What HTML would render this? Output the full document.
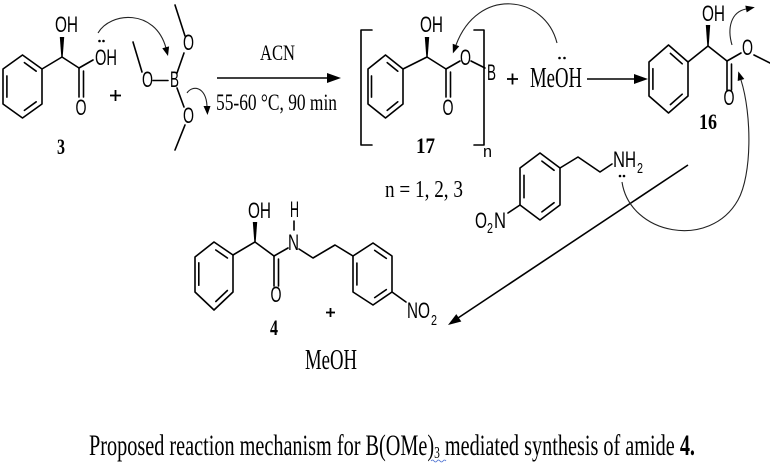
<!DOCTYPE html>
<html><head><meta charset="utf-8">
<style>
html,body{margin:0;padding:0;background:#fff;}
svg{display:block;}
.s{font-family:"Liberation Sans",Arial,sans-serif;font-size:22px;}
.t{font-family:"Liberation Serif","Times New Roman",serif;}
.b{font-family:"Liberation Serif","Times New Roman",serif;font-weight:bold;font-size:22px;}
</style></head><body>
<svg width="770" height="470" viewBox="0 0 770 470" xmlns="http://www.w3.org/2000/svg">
<rect width="770" height="470" fill="#fff"/>

<!-- ================= BONDS ================= -->
<g stroke="#000" stroke-width="1.6" fill="none" stroke-linecap="round" stroke-linejoin="round">
  <!-- Molecule 3 -->
  <polygon points="22.5,55 42,69 42,104 22.5,118 3,104 3,69"/>
  <line x1="24.4" y1="62.6" x2="36.2" y2="71.2"/>
  <line x1="36.2" y1="101.8" x2="24.4" y2="110.4"/>
  <line x1="6.9" y1="97.1" x2="6.9" y2="75.9"/>
  <line x1="42" y1="69" x2="62" y2="57"/>
  <line x1="62" y1="57" x2="79" y2="68"/>
  <line x1="79" y1="68" x2="79" y2="97"/>
  <line x1="83.5" y1="71" x2="83.5" y2="97"/>
  <line x1="79" y1="68" x2="93" y2="60"/>

  <!-- B(OMe)3 -->
  <line x1="133" y1="42" x2="142" y2="72"/>
  <line x1="153" y1="80.5" x2="168" y2="80.5"/>
  <line x1="177" y1="73" x2="184" y2="53"/>
  <line x1="185" y1="36" x2="175" y2="5"/>
  <line x1="177" y1="88" x2="184" y2="107"/>
  <line x1="185" y1="125" x2="175" y2="150"/>

  <!-- Compound 17 -->
  <path d="M372,30 H361 V145 H372"/>
  <path d="M474,30 H484 V145 H474"/>
  <polygon points="385.5,55 403,69 403,104 385.5,118 368,104 368,69"/>
  <line x1="387.2" y1="62.6" x2="397.8" y2="71.2"/>
  <line x1="397.8" y1="101.8" x2="387.2" y2="110.4"/>
  <line x1="371.5" y1="97.1" x2="371.5" y2="75.9"/>
  <line x1="403" y1="69" x2="427" y2="57"/>
  <line x1="427" y1="57" x2="446" y2="69"/>
  <line x1="446" y1="69" x2="446" y2="97"/>
  <line x1="450.5" y1="72" x2="450.5" y2="97"/>
  <line x1="446" y1="69" x2="460" y2="61"/>
  <line x1="471" y1="61" x2="485" y2="68"/>

  <!-- Compound 16 -->
  <polygon points="668.5,45 688,62 688,96 668.5,113 649,96 649,62"/>
  <line x1="670.4" y1="53.4" x2="682.2" y2="63.8"/>
  <line x1="682.2" y1="94.2" x2="670.4" y2="104.6"/>
  <line x1="652.9" y1="89.3" x2="652.9" y2="68.7"/>
  <line x1="688" y1="62" x2="708" y2="46"/>
  <line x1="708" y1="46" x2="727" y2="61"/>
  <line x1="727" y1="61" x2="727" y2="90"/>
  <line x1="731.5" y1="64" x2="731.5" y2="90"/>
  <line x1="727" y1="61" x2="741" y2="53"/>
  <line x1="754" y1="55" x2="770" y2="63"/>

  <!-- 4-nitrophenethylamine -->
  <polygon points="540,153 560,168 560,205 540,220 520,205 520,168"/>
  <line x1="541.9" y1="161.1" x2="554.1" y2="170.3"/>
  <line x1="554.1" y1="202.7" x2="541.9" y2="211.9"/>
  <line x1="524" y1="197.7" x2="524" y2="175.3"/>
  <polyline points="560,168 578,157 600,172 612,164"/>
  <line x1="520" y1="205" x2="508" y2="213"/>

  <!-- Compound 4 -->
  <polygon points="214,242 233,255 233,292 214,310 195,292 195,257"/>
  <line x1="215.8" y1="250" x2="227.4" y2="258"/>
  <line x1="227.4" y1="290.5" x2="215.8" y2="301.5"/>
  <line x1="198.8" y1="285.2" x2="198.8" y2="262.8"/>
  <line x1="233" y1="255" x2="255" y2="242"/>
  <line x1="255" y1="242" x2="274" y2="256"/>
  <line x1="274" y1="256" x2="274" y2="286"/>
  <line x1="278.5" y1="259" x2="278.5" y2="286"/>
  <line x1="274" y1="256" x2="288" y2="248"/>
  <line x1="294" y1="221" x2="294" y2="230"/>
  <polyline points="299,249 313,258 335,245 353,256"/>
  <polygon points="373,243 392,256 392,292 373,305 353,292 353,256"/>
  <line x1="374.7" y1="250.4" x2="386.3" y2="258.4"/>
  <line x1="386.3" y1="289.6" x2="374.7" y2="297.6"/>
  <line x1="356.9" y1="285" x2="356.9" y2="263"/>
  <line x1="392" y1="292" x2="406" y2="302"/>
</g>

<!-- wedges -->
<g fill="#000">
  <polygon points="61.3,57 62.7,57 64.2,37 59.8,37"/>
  <polygon points="426.3,57 427.7,57 429.2,37 424.8,37"/>
  <polygon points="707.3,46 708.7,46 710.2,25 705.8,25"/>
  <polygon points="254.3,242 255.7,242 257.2,222 252.8,222"/>
</g>

<!-- plus signs -->
<g stroke="#000" stroke-width="1.8">
  <line x1="110" y1="95.5" x2="121" y2="95.5"/>
  <line x1="115.5" y1="90" x2="115.5" y2="101"/>
  <line x1="507" y1="79" x2="518" y2="79"/>
  <line x1="512.5" y1="73.5" x2="512.5" y2="84.5"/>
  <line x1="326" y1="312.5" x2="335" y2="312.5"/>
  <line x1="330.5" y1="308" x2="330.5" y2="317"/>
</g>

<!-- reaction arrows -->
<g stroke="#000" stroke-width="1.6">
  <line x1="217" y1="78" x2="331" y2="78"/>
  <line x1="587" y1="79" x2="636" y2="79"/>
  <line x1="688" y1="165" x2="458" y2="318"/>
</g>
<g fill="#000">
  <polygon points="341,78 327,73 327,83"/>
  <polygon points="648,79 634,74 634,84"/>
  <polygon points="448,325 461.3,321.5 456.3,314.1"/>
</g>

<!-- curved electron arrows -->
<g stroke="#222" stroke-width="1.1" fill="none">
  <path d="M98,33 C110,12 155,8 166,48"/>
  <path d="M187,93 C192,85 206,86 207,106"/>
  <path d="M557,43 C545,-5 478,-14 456,45"/>
  <path d="M732,45 C727,28 731,12 746,9"/>
  <path d="M622,182 C630,235 710,250 738,200 C752,175 752,115 741,80"/>
</g>
<g fill="#000">
  <polygon points="168,56 169.1,46.4 162.3,48.2"/>
  <polygon points="207.5,115 210.5,106 203.5,106"/>
  <polygon points="452.9,53.4 459.3,46.2 452.7,43.8"/>
  <polygon points="754.8,7.2 746.7,12.4 745.3,5.6"/>
  <polygon points="738.3,71.4 744.3,78.95 737.7,81.05"/>
</g>

<!-- lone pair dots -->
<g fill="#000">
  <circle cx="99.5" cy="41" r="1.3"/>
  <circle cx="103.5" cy="41" r="1.3"/>
  <circle cx="559.5" cy="58" r="1.3"/>
  <circle cx="564.5" cy="58" r="1.3"/>
  <circle cx="620" cy="176" r="1.3"/>
  <circle cx="624" cy="176" r="1.3"/>
</g>

<!-- ================= ATOM LABELS ================= -->
<g class="s" fill="#000">
  <text x="55" y="32" textLength="23" lengthAdjust="spacingAndGlyphs">OH</text>
  <text x="75.5" y="115" textLength="11" lengthAdjust="spacingAndGlyphs">O</text>
  <text x="95" y="65" textLength="22" lengthAdjust="spacingAndGlyphs">OH</text>
  <text x="142" y="87" textLength="11" lengthAdjust="spacingAndGlyphs">O</text>
  <text x="170" y="87" textLength="9" lengthAdjust="spacingAndGlyphs">B</text>
  <text x="183" y="50" textLength="11" lengthAdjust="spacingAndGlyphs">O</text>
  <text x="183" y="123" textLength="11" lengthAdjust="spacingAndGlyphs">O</text>
  <text x="420" y="32" textLength="23" lengthAdjust="spacingAndGlyphs">OH</text>
  <text x="442.5" y="115" textLength="11" lengthAdjust="spacingAndGlyphs">O</text>
  <text x="460" y="65" textLength="11" lengthAdjust="spacingAndGlyphs">O</text>
  <text x="487" y="80" textLength="9" lengthAdjust="spacingAndGlyphs">B</text>
  <text x="483" y="157" font-size="17" textLength="9" lengthAdjust="spacingAndGlyphs">n</text>
  <text x="702" y="21" textLength="23" lengthAdjust="spacingAndGlyphs">OH</text>
  <text x="723.5" y="105" textLength="11" lengthAdjust="spacingAndGlyphs">O</text>
  <text x="742" y="55" textLength="11" lengthAdjust="spacingAndGlyphs">O</text>
  <text x="613" y="167" textLength="12" lengthAdjust="spacingAndGlyphs">N</text>
  <text x="625" y="167" textLength="11" lengthAdjust="spacingAndGlyphs">H</text>
  <text x="637" y="173" font-size="15" textLength="6" lengthAdjust="spacingAndGlyphs">2</text>
  <text x="475" y="228" textLength="12" lengthAdjust="spacingAndGlyphs">O</text>
  <text x="487" y="233" font-size="15" textLength="6" lengthAdjust="spacingAndGlyphs">2</text>
  <text x="494" y="228" textLength="12" lengthAdjust="spacingAndGlyphs">N</text>
  <text x="248" y="218" textLength="23" lengthAdjust="spacingAndGlyphs">OH</text>
  <text x="290" y="217" textLength="9" lengthAdjust="spacingAndGlyphs">H</text>
  <text x="288" y="250" textLength="11" lengthAdjust="spacingAndGlyphs">N</text>
  <text x="270.5" y="302" textLength="11" lengthAdjust="spacingAndGlyphs">O</text>
  <text x="407" y="318" textLength="11" lengthAdjust="spacingAndGlyphs">N</text>
  <text x="418" y="318" textLength="12" lengthAdjust="spacingAndGlyphs">O</text>
  <text x="431" y="325" font-size="15" textLength="6" lengthAdjust="spacingAndGlyphs">2</text>
</g>

<!-- serif texts -->
<g class="t" fill="#000">
  <text x="260" y="60" font-size="22" textLength="35" lengthAdjust="spacingAndGlyphs">ACN</text>
  <text x="216" y="110" font-size="23" textLength="121" lengthAdjust="spacingAndGlyphs">55-60 °C, 90 min</text>
  <text x="385" y="197" font-size="24" textLength="78" lengthAdjust="spacingAndGlyphs">n = 1, 2, 3</text>
  <text x="530" y="87" font-size="28" textLength="52" lengthAdjust="spacingAndGlyphs">MeOH</text>
  <text x="305" y="369" font-size="28" textLength="52" lengthAdjust="spacingAndGlyphs">MeOH</text>
</g>

<!-- bold compound numbers -->
<g class="b" fill="#000">
  <text x="57" y="154" textLength="8" lengthAdjust="spacingAndGlyphs">3</text>
  <text x="416" y="153" textLength="19" lengthAdjust="spacingAndGlyphs">17</text>
  <text x="699" y="129" textLength="18" lengthAdjust="spacingAndGlyphs">16</text>
  <text x="270" y="335" textLength="8" lengthAdjust="spacingAndGlyphs">4</text>
</g>

<!-- caption -->
<text class="t" fill="#000" font-size="30" transform="translate(89,455) scale(0.675,1)">Proposed reaction mechanism for B(OMe)<tspan font-size="17" dy="3">3</tspan><tspan dy="-3"> mediated synthesis of amide </tspan><tspan font-weight="bold">4.</tspan></text>
<path d="M431,461 q1.5,-2 3,0 t3,0 t3,0 t3,0 t3,0" stroke="#4a6fd0" stroke-width="0.8" fill="none"/>
</svg>
</body></html>
